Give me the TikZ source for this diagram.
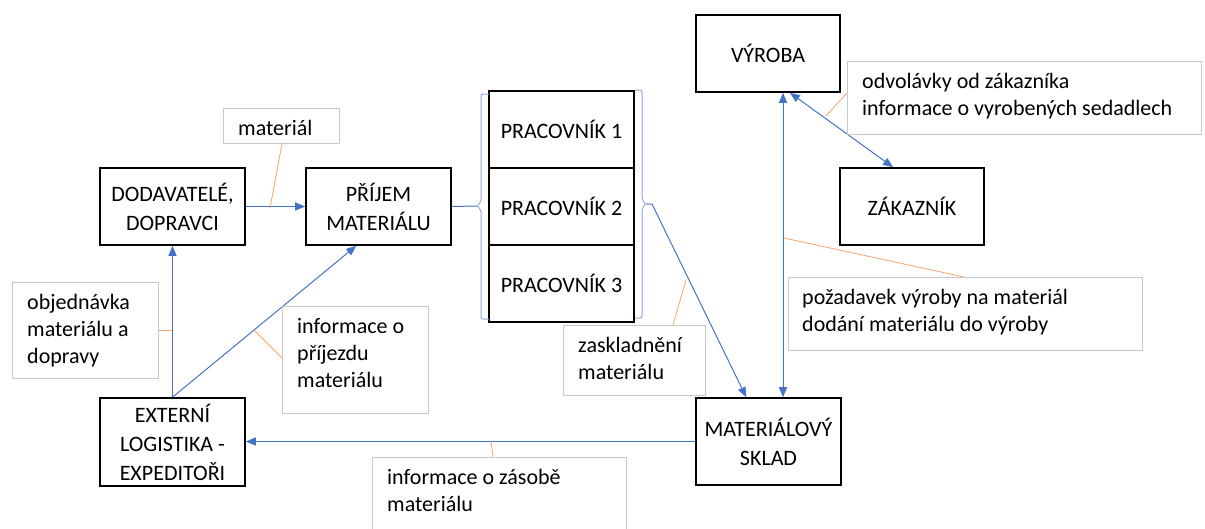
\documentclass[tikz,border=0pt]{standalone}
\usepackage{fontspec}
\setmainfont{Carlito}
\usetikzlibrary{arrows.meta,calc}
\definecolor{flowblue}{HTML}{4472C4}
\definecolor{braceblue}{HTML}{8EA9DB}
\definecolor{leadorange}{HTML}{F4A46C}
\definecolor{framegray}{HTML}{C9C9C9}

% left-aligned multi-line label whose reference point is the first baseline
\newcommand{\notelines}[1]{\begin{tabular}[t]{@{}l@{}}#1\end{tabular}}

\begin{document}
\begin{tikzpicture}[x=1pt,y=-1pt,
  box/.style={draw=black, line width=1.6pt, fill=white, minimum width=145pt,
    minimum height=77pt, inner sep=0pt, align=center,
    font=\fontsize{22}{29}\selectfont},
  note/.style={draw=framegray, line width=0.9pt, fill=white, inner sep=0pt,
    anchor=north west},
  notetext/.style={anchor=base west, inner sep=0pt,
    font=\fontsize{22}{27}\selectfont},
  flow/.style={draw=flowblue, line width=1pt, -{Triangle[length=10pt,width=8pt]}},
  flowboth/.style={draw=flowblue, line width=1pt,
    {Triangle[length=10pt,width=8pt]}-{Triangle[length=10pt,width=8pt]}},
  link/.style={draw=flowblue, line width=1pt},
  brace/.style={draw=braceblue, line width=1pt, rounded corners=2pt},
  lead/.style={draw=leadorange, line width=0.8pt}
]
\useasboundingbox (0,0) rectangle (1205,528);

% main process boxes
\node[box] (dod) at (172.5,206.5) {DODAVATELÉ,\\DOPRAVCI};
\node[box] (pri) at (378.5,206.5) {PŘÍJEM\\MATERIÁLU};
\node[box] (p1) at (561.5,129.5) {PRACOVNÍK 1};
\node[box] (p2) at (561.5,206.5) {PRACOVNÍK 2};
\node[box] (p3) at (561.5,283.5) {PRACOVNÍK 3};
\node[box, minimum width=144pt] (vyr) at (768,53.5) {VÝROBA};
\node[box, minimum width=144pt] (zak) at (912,206.5) {ZÁKAZNÍK};
\node[box, minimum height=87pt] (mat) at (768.5,441.5) {MATERIÁLOVÝ\\SKLAD};
\node[box, minimum height=88pt] (ext) at (172.5,442) {EXTERNÍ\\LOGISTIKA -\\EXPEDITOŘI};

% braces grouping the three workers
\draw[brace] (489,94) -- (481,94) -- (481,202) -- (477,206) -- (481,210)
  -- (481,319) -- (489,319);
\draw[brace] (635,90) -- (642,90) -- (642,200) -- (646,204) -- (642,208)
  -- (642,318) -- (635,318);
\coordinate (ltip) at (477,206);
\coordinate (rtip) at (646,204);
\coordinate (rbend) at (652,204);

% flows
\draw[flow] (dod.east) -- (pri.west);
\draw[link] (pri.east) -- (ltip);
\draw[flow] (rtip) -- (rbend) -- ($(mat.north west)+(51,0)$);
\draw[flowboth] (783,0 |- vyr.south) -- (783,0 |- mat.north);
\draw[flowboth] (790,0 |- vyr.south) -- (893,0 |- zak.north);
\draw[flow] (ext.north) -- (dod.south);
\draw[flow] (ext.north) -- ($(pri.south west)+(51,0)$);
\draw[flow] (mat.west) -- (ext.east |- mat.west);

% annotation boxes
\node[note, minimum width=116pt, minimum height=35pt] (nmat) at (223,108) {};
\node[notetext] at ($(nmat.north west)+(15,27)$) {\notelines{materiál}};

\node[note, minimum width=146pt, minimum height=96pt] (nobj) at (12,282) {};
\node[notetext] at ($(nobj.north west)+(15,27)$)
  {\notelines{objednávka\\materiálu a\\dopravy}};

\node[note, minimum width=146pt, minimum height=107pt] (npri) at (282,306) {};
\node[notetext] at ($(npri.north west)+(15,27)$)
  {\notelines{informace o\\příjezdu\\materiálu}};

\node[note, minimum width=142pt, minimum height=70pt] (nzas) at (563,325) {};
\node[notetext] at ($(nzas.north west)+(15,27)$)
  {\notelines{zaskladnění\\materiálu}};

\node[note, minimum width=254pt, minimum height=90pt] (nzasoba) at (372,457) {};
\node[notetext] at ($(nzasoba.north west)+(15,27)$)
  {\notelines{informace o zásobě\\materiálu}};

\node[note, minimum width=354pt, minimum height=73pt] (nodv) at (847,61) {};
\node[notetext] at ($(nodv.north west)+(15,27)$)
  {\notelines{odvolávky od zákazníka\\informace o vyrobených sedadlech}};

\node[note, minimum width=354pt, minimum height=73pt] (npoz) at (788,277) {};
\node[notetext] at ($(npoz.north west)+(14,27)$)
  {\notelines{požadavek výroby na materiál\\dodání materiálu do výroby}};

% leader lines from annotations to their flows
\draw[lead] (282,0 |- nmat.south) -- (270,208);
\draw[lead] (nobj.east |- 0,330) -- (172,330);
\draw[lead] (npri.west |- 0,358) -- (254,330);
\draw[lead] (673,0 |- nzas.north) -- (686,280);
\draw[lead] (493,0 |- nzasoba.north) -- (491,441);
\draw[lead] (nodv.west |- 0,93) -- (826,116);
\draw[lead] (964,0 |- npoz.north) -- (784,238);
\end{tikzpicture}
\end{document}
